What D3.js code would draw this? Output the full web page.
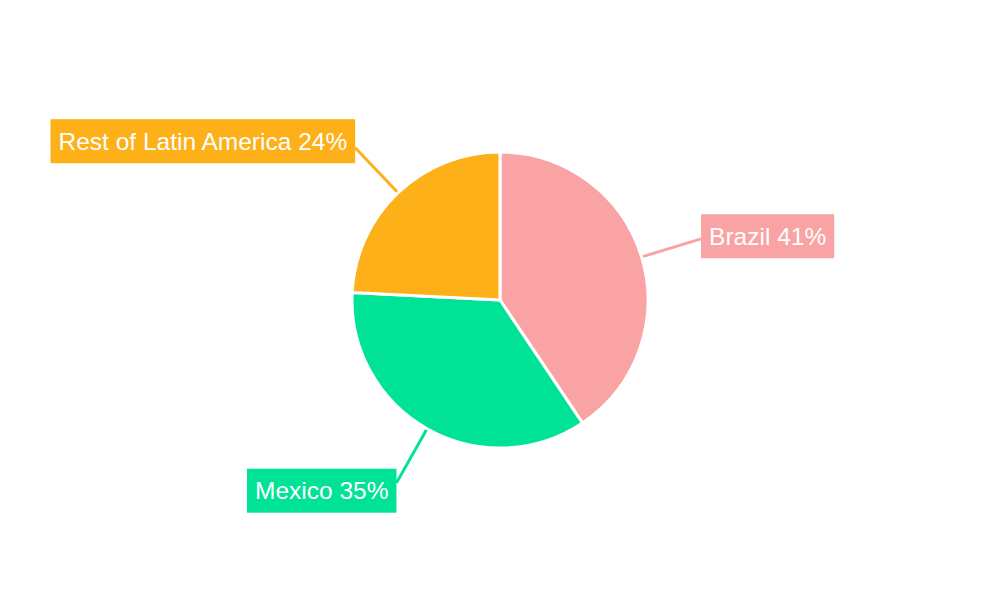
<!DOCTYPE html>
<html>
<head>
<meta charset="utf-8">
<script src="https://cdn.jsdelivr.net/npm/d3@7"></script>
<style>
  body { margin: 0; background: #fff; }
  text { font-family: "Liberation Sans", Arial, sans-serif; }
</style>
</head>
<body>
<div id="chart"></div>
<script>
const categories = ["Brazil", "Mexico", "Rest of Latin America"];
const shares = [40.6, 35.2, 24.2];
const colors = ["#f9a3a4", "#00e396", "#feb019"];

const width = 1000, height = 600;
const cx = 500, cy = 300, radius = 148;
const fontSize = 24.5, padX = 8, boxH = 44;

const svg = d3.select("#chart")
  .append("svg")
  .attr("width", width)
  .attr("height", height);

const data = categories.map((c, i) => ({label: c, value: shares[i], color: colors[i]}));

const pie = d3.pie().value(d => d.value).sort(null);
const arcs = pie(data);
const arc = d3.arc().innerRadius(0).outerRadius(radius);

const g = svg.append("g").attr("transform", `translate(${cx},${cy})`);

const polar = (r, a) => [r * Math.sin(a), -r * Math.cos(a)];

// leader lines first so the boxes sit on top
arcs.forEach(d => {
  const mid = (d.startAngle + d.endAngle) / 2;
  const p0 = polar(radius, mid);
  const p1 = polar(radius * 1.42, mid);
  g.append("line")
    .attr("x1", p0[0]).attr("y1", p0[1])
    .attr("x2", p1[0]).attr("y2", p1[1])
    .attr("stroke", d.data.color)
    .attr("stroke-width", 3);
});

g.selectAll("path")
  .data(arcs)
  .enter()
  .append("path")
  .attr("d", arc)
  .attr("fill", d => d.data.color)
  .attr("stroke", "#fff")
  .attr("stroke-width", 3)
  .attr("stroke-linejoin", "round");

arcs.forEach(d => {
  const mid = (d.startAngle + d.endAngle) / 2;
  const p = polar(radius * 1.42, mid);
  const right = Math.sin(mid) >= 0;
  const yc = p[1] - 9 * Math.cos(mid);
  const lg = g.append("g");
  const t = lg.append("text")
    .text(`${d.data.label} ${Math.round(d.data.value)}%`)
    .attr("font-size", fontSize)
    .attr("fill", "#fff")
    .attr("dominant-baseline", "central");
  const w = t.node().getComputedTextLength() + padX * 2;
  const x0 = right ? p[0] : p[0] - w;
  lg.insert("rect", "text")
    .attr("x", x0)
    .attr("y", yc - boxH / 2)
    .attr("width", w)
    .attr("height", boxH)
    .attr("fill", d.data.color);
  t.attr("x", x0 + padX).attr("y", yc);
});
</script>
</body>
</html>
